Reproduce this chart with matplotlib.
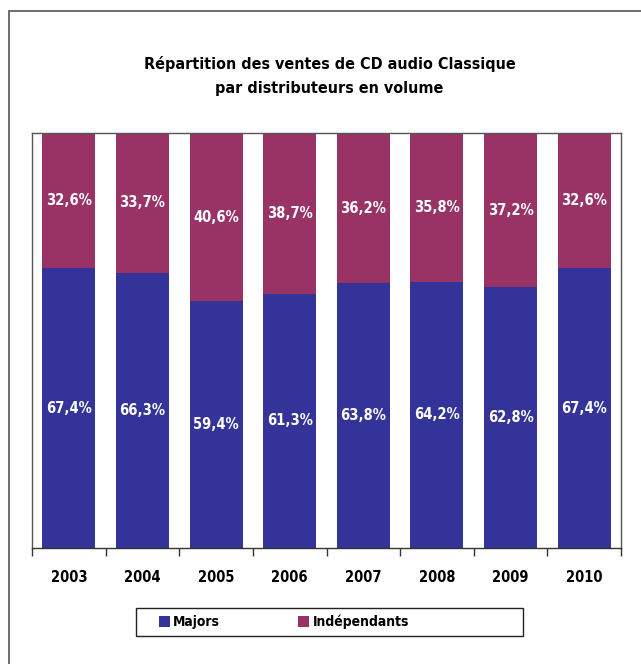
import numpy as np
import matplotlib.pyplot as plt
from matplotlib.patches import Rectangle
from matplotlib import font_manager

years = ["2003", "2004", "2005", "2006", "2007", "2008", "2009", "2010"]
majors = [67.4, 66.3, 59.4, 61.3, 63.8, 64.2, 62.8, 67.4]
independants = [32.6, 33.7, 40.6, 38.7, 36.2, 35.8, 37.2, 32.6]

BLUE = "#333399"
PURPLE = "#993366"

# look for a condensed bold face (the original uses a condensed font)
cond = None
for f in font_manager.fontManager.ttflist:
    nm = (f.name + " " + f.fname).lower()
    if ("condensed" in nm or "narrow" in nm or f.stretch in ("condensed", "semi-condensed")) \
            and f.weight in ("bold", 700, "700"):
        cond = f
        break
if cond is not None:
    font_manager.fontManager.addfont(cond.fname)
    plt.rcParams["font.family"] = [cond.name, "DejaVu Sans"]
    plt.rcParams["font.stretch"] = cond.stretch
    scale = 1.0
else:
    plt.rcParams["font.family"] = ["DejaVu Sans"]
    scale = 0.85
plt.rcParams["font.weight"] = "bold"

fig = plt.figure(figsize=(6.41, 6.64), dpi=100)
ax = fig.add_axes([32 / 641, 116 / 664, 589 / 641, 415 / 664])

x = np.arange(len(years))
b1 = ax.bar(x, majors, width=0.72, color=BLUE, label="Majors")
b2 = ax.bar(x, independants, width=0.72, bottom=majors, color=PURPLE, label="Indépendants")

for i in range(len(years)):
    ax.text(x[i], majors[i] / 2, f"{majors[i]:.1f}%".replace(".", ","),
            ha="center", va="center", color="white", fontsize=10.5 * scale, fontweight="bold")
    ax.text(x[i], majors[i] + independants[i] / 2, f"{independants[i]:.1f}%".replace(".", ","),
            ha="center", va="center", color="white", fontsize=10.5 * scale, fontweight="bold")

ax.set_xlim(-0.5, len(years) - 0.5)
ax.set_ylim(0, 100)
ax.set_yticks([])
ax.set_xticks(np.arange(len(years) + 1) - 0.5)
ax.set_xticklabels([])
ax.set_xticks(x, minor=True)
ax.set_xticklabels(years, minor=True, fontsize=10.5 * scale, fontweight="bold")
ax.tick_params(axis="x", which="major", length=6, width=1, direction="out", color="#333333")
ax.tick_params(axis="x", which="minor", length=0, pad=16)
for s in ax.spines.values():
    s.set_color("#555555")
    s.set_linewidth(1)
ax.spines["bottom"].set_color("#333333")

fig.text(0.514, 1 - 64 / 664, "Répartition des ventes de CD audio Classique",
         ha="center", va="center", fontsize=11.5 * scale, fontweight="bold")
fig.text(0.514, 1 - 89 / 664, "par distributeurs en volume",
         ha="center", va="center", fontsize=11.5 * scale, fontweight="bold")

# legend: entries sit left inside a wider box, like the Excel original
leg = fig.legend(handles=[b1, b2], loc="center left", ncol=2, frameon=False,
                 bbox_to_anchor=(146 / 641, 1 - 622 / 664),
                 prop={"size": 10 * scale, "weight": "bold"},
                 handlelength=0.8, handleheight=0.9, handletextpad=0.25,
                 columnspacing=5.6)
fig.patches.append(Rectangle((136 / 641, 1 - 636 / 664), 387 / 641, 28 / 664,
                             transform=fig.transFigure, fill=False,
                             edgecolor="#222222", linewidth=1))

# outer frame of the chart (runs off right/bottom edges)
fig.patches.append(Rectangle((9 / 641, -0.05), 1.1, 1 - 11 / 664 + 0.05,
                             transform=fig.transFigure, fill=False,
                             edgecolor="#555555", linewidth=1.2))

fig.savefig("out.png", dpi=100)
